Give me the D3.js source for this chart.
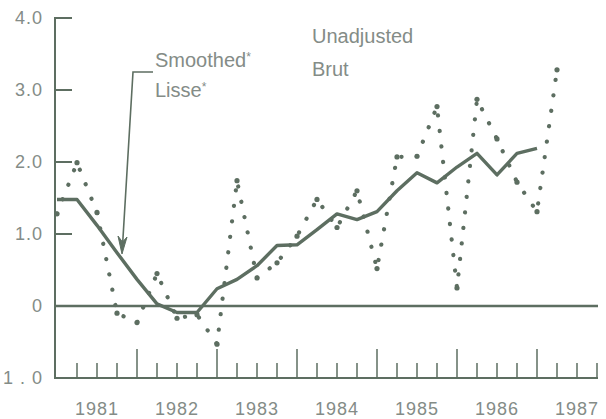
<!DOCTYPE html>
<html>
<head>
<meta charset="utf-8">
<script src="https://cdn.jsdelivr.net/npm/d3@7"></script>
<style>
  html, body { margin: 0; padding: 0; background: #ffffff; }
  svg { display: block; }
</style>
</head>
<body>
<svg id="chart" width="606" height="419"></svg>
<script>
// ---- data ----
const yearLabels = ["1981", "1982", "1983", "1984", "1985", "1986", "1987"];
const yTickValues = [4, 3, 2, 1, 0, -1];
const yTickLabels = ["4.0", "3.0", "2.0", "1.0", "0", "1 . 0"];
// quarterly dates (year + fraction)
const quarterDates = [
  1981.00, 1981.25, 1981.50, 1981.75,
  1982.00, 1982.25, 1982.50, 1982.75,
  1983.00, 1983.25, 1983.50, 1983.75,
  1984.00, 1984.25, 1984.50, 1984.75,
  1985.00, 1985.25, 1985.50, 1985.75,
  1986.00, 1986.25, 1986.50, 1986.75,
  1987.00, 1987.25
];
const unadjusted = [
  1.28, 1.99, 1.30, -0.10, -0.23, 0.45, -0.17, -0.12,
  -0.53, 1.74, 0.39, 0.60, 0.97, 1.48, 1.09, 1.60,
  0.52, 2.07, 2.08, 2.77, 0.25, 2.87, 2.32, 1.72,
  1.31, 3.28
];
const smoothed = [
  1.48, 1.48, 1.12, 0.74, 0.37, 0.03, -0.09, -0.09,
  0.24, 0.37, 0.56, 0.84, 0.85, 1.06, 1.28, 1.20,
  1.31, 1.60, 1.85, 1.71, 1.93, 2.12, 1.82, 2.12,
  2.19
];
const axisTicks = [
  1981.25, 1981.5, 1981.75, 1982, 1982.25, 1982.5, 1982.75, 1983,
  1983.25, 1983.5, 1983.75, 1984, 1984.25, 1984.5, 1984.75, 1985,
  1985.25, 1985.5, 1985.75, 1986, 1986.25, 1986.5, 1986.75, 1987,
  1987.25, 1987.5, 1987.75
];

// ---- drawing ----
const lineColor = "#5d6e61";
const textColor = "#848c87";
const svg = d3.select("#chart");

const x = d3.scaleLinear().domain([1981, 1987.75]).range([57, 597]);
const y = d3.scaleLinear().domain([-1, 4]).range([378, 18]);

const x0 = 55, xEnd = 598;

// y axis line
svg.append("line")
  .attr("x1", x0).attr("x2", x0)
  .attr("y1", y(4) - 1).attr("y2", y(-1) + 1)
  .attr("stroke", lineColor).attr("stroke-width", 2);

// y ticks (inward) and labels
const yAxis = d3.axisLeft(y).tickValues(yTickValues)
  .tickSize(0).tickPadding(12)
  .tickFormat((d, i) => yTickLabels[i]);
const gy = svg.append("g").attr("transform", `translate(${x0},0)`).call(yAxis);
gy.select(".domain").remove();
gy.selectAll("text")
  .attr("fill", textColor)
  .style("font-family", "'Liberation Sans', Arial, Helvetica, sans-serif")
  .style("font-size", "18px")
  .style("letter-spacing", "1px");
svg.selectAll("line.ytick").data(yTickValues.filter(v => v > 0)).enter()
  .append("line").attr("class", "ytick")
  .attr("x1", x0).attr("x2", x0 + 17)
  .attr("y1", d => y(d)).attr("y2", d => y(d))
  .attr("stroke", lineColor).attr("stroke-width", 2);

// bottom axis line
svg.append("line")
  .attr("x1", x0).attr("x2", xEnd)
  .attr("y1", y(-1)).attr("y2", y(-1))
  .attr("stroke", lineColor).attr("stroke-width", 2);

// quarter ticks, long at year boundaries
svg.selectAll("line.xtick").data(axisTicks).enter()
  .append("line").attr("class", "xtick")
  .attr("x1", d => x(d)).attr("x2", d => x(d))
  .attr("y1", y(-1))
  .attr("y2", d => y(-1) - (Number.isInteger(d) ? 29 : 15))
  .attr("stroke", lineColor).attr("stroke-width", 1.5);

// year labels centered in each year
svg.selectAll("text.year").data(yearLabels).enter()
  .append("text").attr("class", "year")
  .attr("x", d => x(+d + 0.5)).attr("y", 415)
  .attr("text-anchor", "middle")
  .attr("fill", textColor)
  .style("font-family", "'Liberation Sans', Arial, Helvetica, sans-serif")
  .style("font-size", "18px")
  .style("letter-spacing", "1px")
  .text(d => d);

// zero line
svg.append("line")
  .attr("x1", x0).attr("x2", xEnd)
  .attr("y1", y(0)).attr("y2", y(0))
  .attr("stroke", lineColor).attr("stroke-width", 2.5);

// unadjusted dotted line
const unData = quarterDates.map((d, i) => [d, unadjusted[i]]);
const line = d3.line().x(d => x(d[0])).y(d => y(d[1]));
svg.append("path").datum(unData)
  .attr("d", line)
  .attr("fill", "none")
  .attr("stroke", lineColor)
  .attr("stroke-width", 4.2)
  .attr("stroke-linecap", "round")
  .attr("stroke-dasharray", "0.1 15.5");
svg.selectAll("circle.un").data(unData).enter()
  .append("circle").attr("class", "un")
  .attr("cx", d => x(d[0])).attr("cy", d => y(d[1]))
  .attr("r", 2.6).attr("fill", lineColor);

// smoothed solid line
const smData = smoothed.map((v, i) => [quarterDates[i], v]);
svg.append("path").datum(smData)
  .attr("d", line)
  .attr("fill", "none")
  .attr("stroke", lineColor)
  .attr("stroke-width", 3.4)
  .attr("stroke-linejoin", "round");

// annotations
const font = "'Liberation Sans', Arial, Helvetica, sans-serif";
function label(tx, ty, txt, star) {
  const t = svg.append("text").attr("x", tx).attr("y", ty)
    .attr("fill", textColor)
    .style("font-family", font).style("font-size", "20px");
  t.append("tspan").text(txt);
  if (star) {
    t.append("tspan").attr("dy", -6).style("font-size", "12px").text("*");
  }
}
label(155, 67, "Smoothed", true);
label(155, 97, "Lisse", true);
label(312, 43, "Unadjusted", false);
label(312, 76, "Brut", false);

// leader with arrow
svg.append("path")
  .attr("d", "M153,72 L133,72 L122.5,246")
  .attr("fill", "none").attr("stroke", lineColor).attr("stroke-width", 1.6);
svg.append("path")
  .attr("d", "M122,254 L118,236 L122.5,242 L127,237 Z")
  .attr("fill", lineColor).attr("stroke", lineColor).attr("stroke-width", 1);
</script>
</body>
</html>
